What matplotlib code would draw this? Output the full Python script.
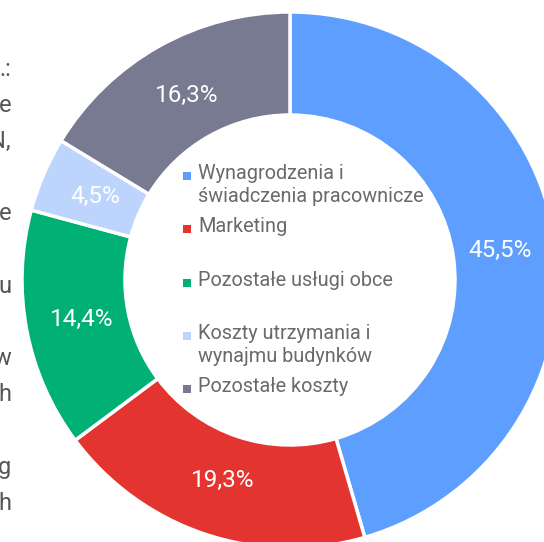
import matplotlib.pyplot as plt

# --- data ---
categories = [
    "Wynagrodzenia i\nświadczenia pracownicze",
    "Marketing",
    "Pozostałe usługi obce",
    "Koszty utrzymania i\nwynajmu budynków",
    "Pozostałe koszty",
]
shares = [45.5, 19.3, 14.4, 4.5, 16.3]
colors = ["#5E9EFF", "#E3342F", "#00B074", "#BDD5FC", "#787A92"]

# cut-off paragraph text on the left edge (page fragments)
edge_text = [".:", "e", "N,", "", "e", "", "u", "", "w", "h", "", "g", "h"]

W, H = 544, 542
fig = plt.figure(figsize=(W / 100, H / 100), dpi=100)
ax = fig.add_axes([0, 0, 1, 1])

cx, cy, R = 290, H - 280, 268
wedges, _, autotexts = ax.pie(
    shares,
    colors=colors,
    startangle=90,
    counterclock=False,
    radius=R,
    center=(cx, cy),
    autopct=lambda p: f"{p:.1f}%".replace(".", ","),
    pctdistance=0.79,
    wedgeprops=dict(width=R - 165, edgecolor="white", linewidth=2.5),
    textprops=dict(color="white", fontsize=17.5, family="Roboto"),
)

ax.set_xlim(0, W)
ax.set_ylim(0, H)
ax.set_aspect("equal")
ax.axis("off")

# legend inside the hole
for i, (lab, col) in enumerate(zip(categories, colors)):
    y = H - (176 + i * 53.3)
    ax.scatter([187], [y], marker="s", s=36, color=col, linewidths=0)
    ax.text(198, y + 12, lab, ha="left", va="top", fontsize=14.3,
            family="Roboto", color="#6a6a6a", linespacing=1.3)

# page text fragments
for i, t in enumerate(edge_text):
    if t:
        ax.text(11, H - (69 + i * 36.2), t, ha="right", va="center", fontsize=17,
                family="Roboto", color="#555555")

fig.savefig("out.png", dpi=100)
